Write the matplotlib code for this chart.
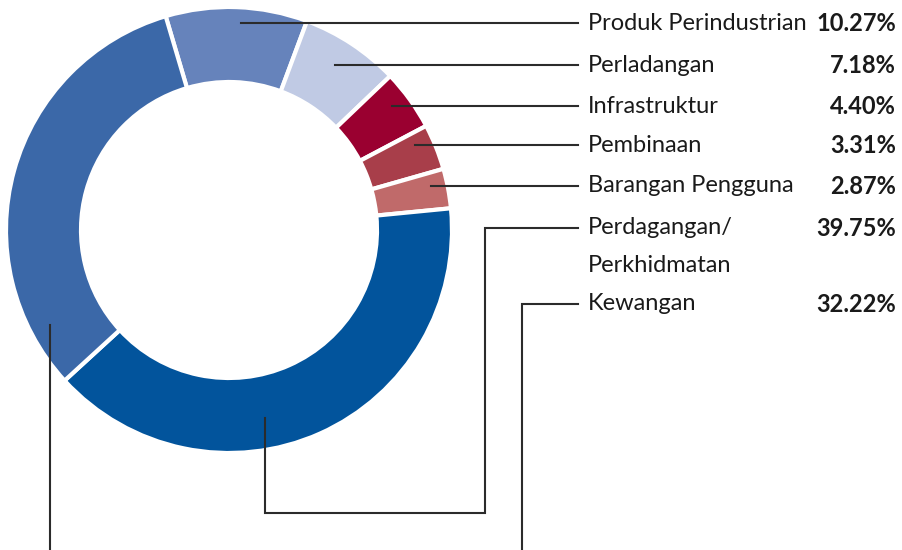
import matplotlib.pyplot as plt

sectors = ['Produk Perindustrian', 'Perladangan', 'Infrastruktur', 'Pembinaan',
           'Barangan Pengguna', 'Perdagangan/\nPerkhidmatan', 'Kewangan']
shares = [10.27, 7.18, 4.40, 3.31, 2.87, 39.75, 32.22]
share_labels = ['10.27%', '7.18%', '4.40%', '3.31%', '2.87%', '39.75%', '32.22%']
colors = ['#6683bb', '#c0cae4', '#9a0030', '#a83e4a', '#c06a6a', '#02549c', '#3b68a8']

# layout (pixel coordinates, y down)
cx, cy, r_out, ring = 229, 230, 223, 75
row_y = [23, 65, 106, 145, 186, 228, 304]
leaders = [
    [(241, 23), (578, 23)],
    [(335, 65), (578, 65)],
    [(392, 106), (578, 106)],
    [(415, 145), (578, 145)],
    [(431, 186), (578, 186)],
    [(265, 418), (265, 513), (485, 513), (485, 228), (578, 228)],
    [(50, 325), (50, 552)],
    [(522, 552), (522, 304), (578, 304)],
]

plt.rcParams['font.family'] = ['Lato', 'DejaVu Sans']

fig = plt.figure(figsize=(9.03, 5.5), dpi=100)
ax = fig.add_axes([0, 0, 1, 1])
ax.pie(shares, colors=colors, center=(cx, cy), radius=r_out,
       startangle=-106.5, counterclock=True,
       wedgeprops=dict(width=ring, edgecolor='white', linewidth=3))
ax.set_xlim(0, 903)
ax.set_ylim(550, 0)
ax.set_aspect('equal')
ax.axis('off')

for pts in leaders:
    xs = [p[0] for p in pts]
    ys = [p[1] for p in pts]
    ax.plot(xs, ys, color='#2b2b2b', lw=1.5, solid_joinstyle='miter', clip_on=False)

for name, lab, y in zip(sectors, share_labels, row_y):
    lines = name.split('\n')
    for k, line in enumerate(lines):
        ax.text(588, y + 37 * k, line, fontsize=17, color='#1a1a1a', va='center', ha='left')
    ax.text(896, y, lab, fontsize=17, fontweight='bold', color='#1a1a1a', va='center', ha='right')

fig.savefig('out.png', dpi=100)
